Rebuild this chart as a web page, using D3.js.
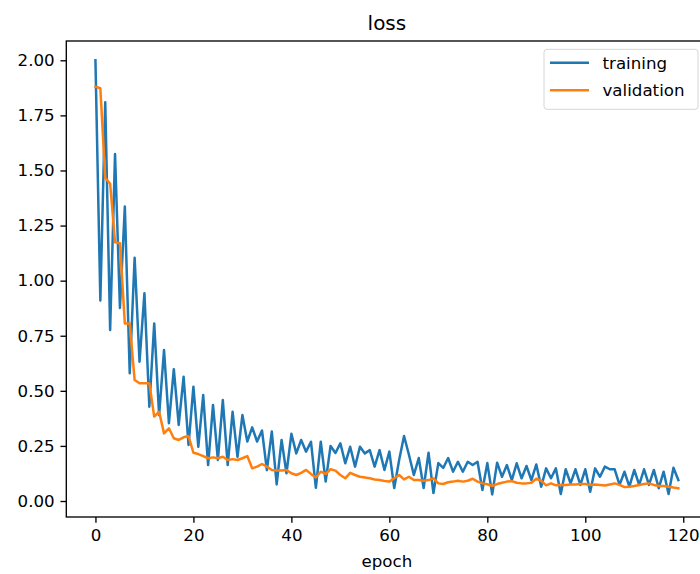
<!DOCTYPE html>
<html>
<head>
<meta charset="utf-8">
<script src="https://cdn.jsdelivr.net/npm/d3@7"></script>
<style>
  html, body { margin: 0; padding: 0; background: #fff; overflow: hidden; }
  svg { display: block; font-family: 'DejaVu Sans', sans-serif; }
</style>
</head>
<body>
<div id="chart"></div>
<script>
// ── data ──
const epochs = d3.range(120);

const training = [
  2.00, 0.91, 1.81, 0.776, 1.575, 0.876, 1.336, 0.58, 1.104, 0.632,
  0.943, 0.428, 0.806, 0.39, 0.685, 0.353, 0.598, 0.345, 0.564, 0.254,
  0.519, 0.246, 0.481, 0.163, 0.436, 0.186, 0.458, 0.163, 0.405, 0.20,
  0.39, 0.27, 0.334, 0.27, 0.32, 0.14, 0.315, 0.075, 0.277, 0.126,
  0.305, 0.216, 0.277, 0.224, 0.269, 0.06, 0.269, 0.088, 0.25, 0.218,
  0.262, 0.171, 0.246, 0.156, 0.246, 0.216, 0.231, 0.156, 0.231, 0.141,
  0.224, 0.059, 0.186, 0.295, 0.21, 0.118, 0.195, 0.059, 0.219, 0.036,
  0.172, 0.15, 0.195, 0.133, 0.178, 0.133, 0.178, 0.163, 0.178, 0.05,
  0.172, 0.03, 0.174, 0.11, 0.163, 0.095, 0.171, 0.103, 0.159, 0.095,
  0.166, 0.065, 0.148, 0.103, 0.148, 0.032, 0.144, 0.08, 0.144, 0.073,
  0.144, 0.042, 0.148, 0.11, 0.156, 0.144, 0.144, 0.073, 0.133, 0.065,
  0.141, 0.073, 0.144, 0.073, 0.141, 0.058, 0.133, 0.032, 0.151, 0.095
];

const validation = [
  1.88, 1.873, 1.467, 1.44, 1.174, 1.17, 0.806, 0.806, 0.549, 0.534,
  0.534, 0.534, 0.383, 0.405, 0.307, 0.33, 0.285, 0.277, 0.289, 0.295,
  0.219, 0.213, 0.204, 0.194, 0.198, 0.194, 0.201, 0.186, 0.19, 0.186,
  0.194, 0.204, 0.148, 0.156, 0.168, 0.156, 0.141, 0.138, 0.138, 0.141,
  0.126, 0.118, 0.128, 0.141, 0.123, 0.107, 0.133, 0.123, 0.144, 0.138,
  0.118, 0.103, 0.128, 0.118, 0.11, 0.107, 0.103, 0.098, 0.095, 0.091,
  0.088, 0.103, 0.118, 0.098, 0.11, 0.095, 0.095, 0.092, 0.095, 0.103,
  0.08, 0.077, 0.085, 0.088, 0.092, 0.088, 0.092, 0.101, 0.088, 0.08,
  0.076, 0.068, 0.077, 0.083, 0.088, 0.09, 0.083, 0.08, 0.08, 0.083,
  0.101, 0.092, 0.071, 0.08, 0.071, 0.073, 0.073, 0.075, 0.075, 0.077,
  0.077, 0.073, 0.075, 0.073, 0.07, 0.075, 0.08, 0.073, 0.063, 0.065,
  0.068, 0.073, 0.077, 0.08, 0.073, 0.068, 0.068, 0.065, 0.061, 0.058
];

const xTicks = [0, 20, 40, 60, 80, 100, 120];
const yTicks = [0, 0.25, 0.5, 0.75, 1.0, 1.25, 1.5, 1.75, 2.0];
const seriesNames = ['training', 'validation'];
const seriesColors = ['#1f77b4', '#ff7f0e'];

// ── layout (matplotlib-like, 120 dpi) ──
const W = 700, H = 574;
const pt = 120 / 72;
const box = { left: 66.3, right: 707.5, top: 41, bottom: 517 };
const fontPx = 10 * pt;

const svg = d3.select('#chart').append('svg')
  .attr('width', W).attr('height', H);

const x = d3.scaleLinear().domain([-5.95, 124.95]).range([box.left, box.right]);
const y = d3.scaleLinear().domain([-0.0726, 2.0876]).range([box.bottom, box.top]);

// lines
const line = d3.line().x((d, i) => x(epochs[i])).y(d => y(d));
[training, validation].forEach((s, k) => {
  svg.append('path')
    .datum(s)
    .attr('d', line)
    .attr('fill', 'none')
    .attr('stroke', seriesColors[k])
    .attr('stroke-width', 1.5 * pt)
    .attr('stroke-linejoin', 'round')
    .attr('stroke-linecap', 'square');
});

// axes
const xAxis = d3.axisBottom(x).tickValues(xTicks).tickFormat(d3.format('d'))
  .tickSize(3.5 * pt).tickSizeOuter(0).tickPadding(3.5 * pt);
const yAxis = d3.axisLeft(y).tickValues(yTicks).tickFormat(d3.format('.2f'))
  .tickSize(3.5 * pt).tickSizeOuter(0).tickPadding(3.5 * pt);

const gx = svg.append('g').attr('transform', `translate(0,${box.bottom})`).call(xAxis);
const gy = svg.append('g').attr('transform', `translate(${box.left},0)`).call(yAxis);
[gx, gy].forEach(g => {
  g.select('.domain').remove();
  g.selectAll('.tick line').attr('stroke', '#000').attr('stroke-width', 0.8 * pt);
  g.selectAll('.tick text')
    .attr('fill', '#000')
    .style('font-size', fontPx + 'px')
    .style('font-family', "'DejaVu Sans', sans-serif");
});

// spines
svg.append('rect')
  .attr('x', box.left).attr('y', box.top)
  .attr('width', box.right - box.left).attr('height', box.bottom - box.top)
  .attr('fill', 'none').attr('stroke', '#000').attr('stroke-width', 0.8 * pt);

// title and label
svg.append('text')
  .attr('x', (box.left + box.right) / 2).attr('y', box.top - 6 * pt - 1)
  .attr('text-anchor', 'middle')
  .style('font-size', (12 * pt) + 'px')
  .text('loss');

svg.append('text')
  .attr('x', (box.left + box.right) / 2).attr('y', 567)
  .attr('text-anchor', 'middle')
  .style('font-size', fontPx + 'px')
  .text('epoch');

// legend
const lg = { x: 544, y: 49.3, w: 154, h: 60 };
svg.append('rect')
  .attr('x', lg.x).attr('y', lg.y).attr('width', lg.w).attr('height', lg.h)
  .attr('rx', 3).attr('fill', 'rgba(255,255,255,0.8)')
  .attr('stroke', '#d6d6d6').attr('stroke-width', 1);

seriesNames.forEach((name, k) => {
  const cy = 62.7 + k * 27.5;
  svg.append('line')
    .attr('x1', 550).attr('x2', 589).attr('y1', cy).attr('y2', cy)
    .attr('stroke', seriesColors[k]).attr('stroke-width', 1.5 * pt);
  svg.append('text')
    .attr('x', 602.5).attr('y', cy).attr('dy', '0.35em')
    .style('font-size', fontPx + 'px')
    .text(name);
});
</script>
</body>
</html>
